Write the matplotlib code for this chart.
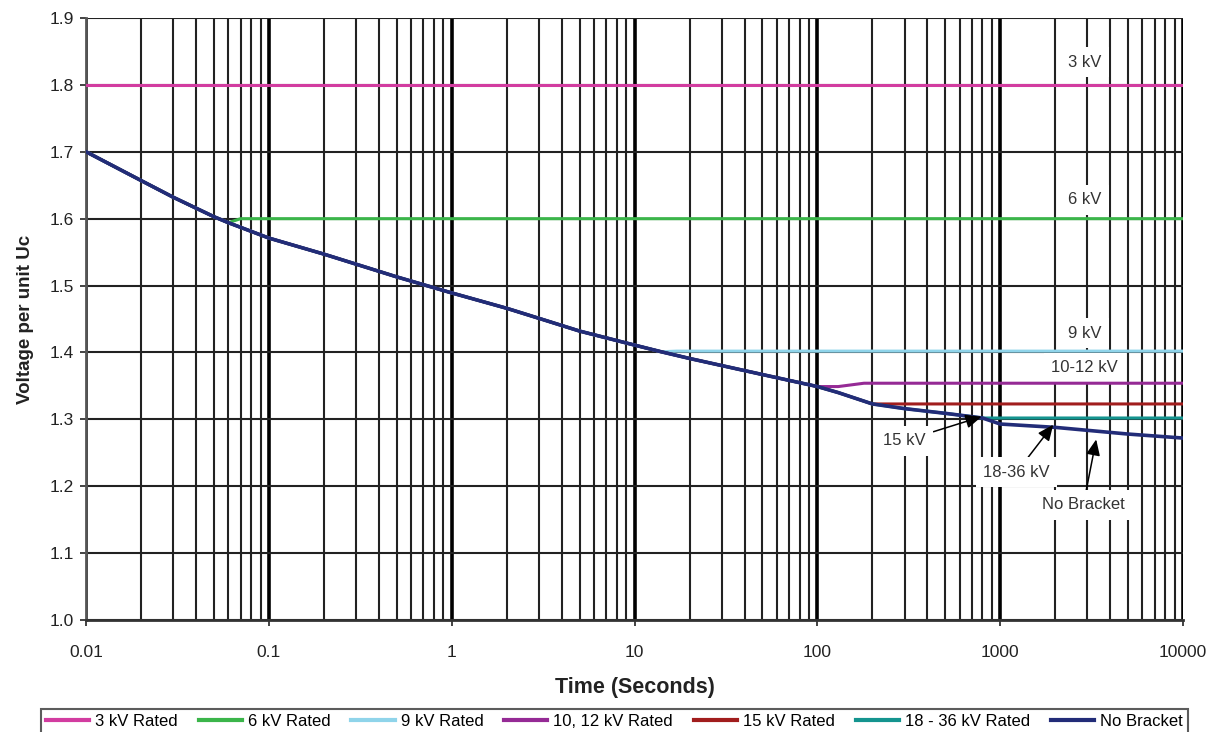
#Voltage per unit Uc vs time chart

#imports
import numpy as np
import matplotlib.pyplot as plt
from matplotlib.ticker import FixedLocator, NullFormatter

plt.rcParams['font.family'] = ['Liberation Sans', 'DejaVu Sans']

#data (time in seconds, voltage per unit Uc)
t_curve = [0.01, 0.02, 0.03, 0.05, 0.06, 0.1, 0.2, 0.5, 1, 2, 3, 5, 10, 14, 20, 50, 100, 130, 200, 300, 500, 800, 1000, 2000, 5000, 10000]
v_curve = [1.70, 1.657, 1.632, 1.603, 1.594, 1.571, 1.547, 1.513, 1.489, 1.466, 1.451, 1.432, 1.411, 1.401, 1.391, 1.367, 1.349, 1.340, 1.323, 1.316, 1.309, 1.302, 1.293, 1.288, 1.278, 1.272]

t_3kv = [0.01, 10000]
v_3kv = [1.80, 1.80]

t_6kv = [0.01, 0.02, 0.03, 0.05, 0.06, 0.07, 10000]
v_6kv = [1.70, 1.657, 1.632, 1.603, 1.594, 1.600, 1.600]

t_9kv = [0.01, 0.02, 0.03, 0.05, 0.06, 0.1, 0.2, 0.5, 1, 2, 3, 5, 10, 14, 17, 10000]
v_9kv = [1.70, 1.657, 1.632, 1.603, 1.594, 1.571, 1.547, 1.513, 1.489, 1.466, 1.451, 1.432, 1.411, 1.401, 1.402, 1.402]

t_12kv = [0.01, 0.02, 0.03, 0.05, 0.06, 0.1, 0.2, 0.5, 1, 2, 3, 5, 10, 14, 20, 50, 100, 130, 180, 10000]
v_12kv = [1.70, 1.657, 1.632, 1.603, 1.594, 1.571, 1.547, 1.513, 1.489, 1.466, 1.451, 1.432, 1.411, 1.401, 1.391, 1.367, 1.349, 1.349, 1.354, 1.354]

t_15kv = [0.01, 0.02, 0.03, 0.05, 0.06, 0.1, 0.2, 0.5, 1, 2, 3, 5, 10, 14, 20, 50, 100, 130, 200, 260, 10000]
v_15kv = [1.70, 1.657, 1.632, 1.603, 1.594, 1.571, 1.547, 1.513, 1.489, 1.466, 1.451, 1.432, 1.411, 1.401, 1.391, 1.367, 1.349, 1.340, 1.323, 1.323, 1.323]

t_36kv = [0.01, 0.02, 0.03, 0.05, 0.06, 0.1, 0.2, 0.5, 1, 2, 3, 5, 10, 14, 20, 50, 100, 130, 200, 300, 500, 800, 10000]
v_36kv = [1.70, 1.657, 1.632, 1.603, 1.594, 1.571, 1.547, 1.513, 1.489, 1.466, 1.451, 1.432, 1.411, 1.401, 1.391, 1.367, 1.349, 1.340, 1.323, 1.316, 1.309, 1.302, 1.302]

series_names = ['3 kV Rated', '6 kV Rated', '9 kV Rated', '10, 12 kV Rated', '15 kV Rated', '18 - 36 kV Rated', 'No Bracket']
series_colors = ['#d23ca0', '#3bb54a', '#8fd4ea', '#952a95', '#a11d1d', '#14948f', '#222c78']

#labels on the right side
right_labels = ['3 kV', '6 kV', '9 kV', '10-12 kV']
right_label_y = [1.834, 1.628, 1.429, 1.377]

#arrow labels: text, text position, arrow target
arrow_labels = ['15 kV', '18-36 kV', 'No Bracket']
arrow_text_xy = [(300, 1.268), (1230, 1.221), (2850, 1.172)]
arrow_tip_xy = [(790, 1.304), (1950, 1.292), (3350, 1.270)]

#figure
fig = plt.figure(figsize=(12.19, 7.32), dpi=100)
ax = fig.add_axes([0.0706, 0.153, 0.8999, 0.8224])

xs = [t_3kv, t_6kv, t_9kv, t_12kv, t_15kv, t_36kv, t_curve]
ys = [v_3kv, v_6kv, v_9kv, v_12kv, v_15kv, v_36kv, v_curve]
for i in range(7):
    lw = 2.6 if i == 6 else 2.2
    ax.plot(xs[i], ys[i], color=series_colors[i], lw=lw, label=series_names[i], zorder=3 + i * 0.1)

ax.set_xscale('log')
ax.set_xlim(0.01, 10000)
ax.set_ylim(1.0, 1.9)

#ticks and grid
ax.xaxis.set_major_locator(FixedLocator([0.01, 0.1, 1, 10, 100, 1000, 10000]))
ax.set_xticklabels(['0.01', '0.1', '1', '10', '100', '1000', '10000'])
ax.xaxis.set_minor_locator(FixedLocator([m * 10.0 ** d for d in range(-2, 4) for m in range(2, 10)]))
ax.xaxis.set_minor_formatter(NullFormatter())
ax.set_yticks(np.arange(1.0, 1.91, 0.1))
ax.set_yticklabels(['%.1f' % v for v in np.arange(1.0, 1.91, 0.1)])
ax.tick_params(axis='both', which='major', labelsize=12.5, length=4, width=1.2, colors='#222222', pad=14)
ax.tick_params(axis='y', pad=5)
ax.tick_params(axis='x', which='minor', length=0)
ax.grid(True, which='major', axis='x', color='black', lw=2.6, zorder=0.5)
ax.grid(True, which='minor', axis='x', color='#222222', lw=1.5, zorder=0.5)
ax.grid(True, which='major', axis='y', color='#222222', lw=1.5, zorder=0.5)
ax.set_axisbelow(True)

for side in ['top', 'right']:
    ax.spines[side].set_visible(False)
ax.spines['left'].set_color('#555555')
ax.spines['left'].set_linewidth(2)
ax.spines['bottom'].set_color('#333333')
ax.spines['bottom'].set_linewidth(2)

ax.set_xlabel('Time (Seconds)', fontsize=15.5, fontweight='bold', color='#222222', labelpad=12)
ax.set_ylabel('Voltage per unit Uc', fontsize=13.5, fontweight='bold', color='#222222', labelpad=11)

#right side labels with white boxes over the grid
for i in range(len(right_labels)):
    ax.text(2900, right_label_y[i], right_labels[i], fontsize=12, color='#333333', ha='center', va='center',
            zorder=2, bbox=dict(boxstyle='square,pad=0.45', fc='white', ec='none'))

#arrow labels
for i in range(len(arrow_labels)):
    ax.annotate(arrow_labels[i], xy=arrow_tip_xy[i], xytext=arrow_text_xy[i], fontsize=12, color='#333333',
                ha='center', va='center', zorder=4,
                bbox=dict(boxstyle='square,pad=0.45', fc='white', ec='none'),
                arrowprops=dict(arrowstyle='-|>,head_length=0.8,head_width=0.35', color='black', lw=1.1,
                                shrinkA=0, shrinkB=0))

#legend at the bottom
leg = fig.legend(loc='upper center', bbox_to_anchor=(0.504, 0.031), ncol=7, fontsize=12, frameon=True,
                 fancybox=False, edgecolor='#333333', handlelength=2.6, handletextpad=0.35, columnspacing=1.25,
                 borderpad=0.3, borderaxespad=0)
leg.get_frame().set_linewidth(1.5)
for line in leg.get_lines():
    line.set_linewidth(3)

fig.savefig('out.png', dpi=100)
